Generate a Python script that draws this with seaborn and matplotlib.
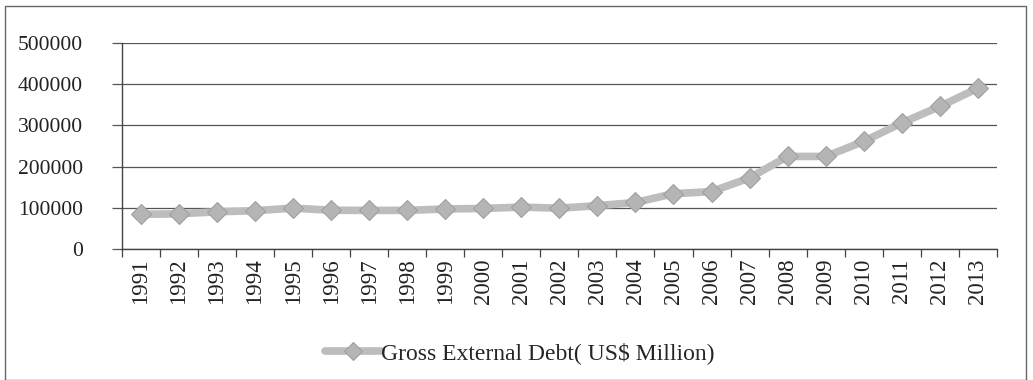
import matplotlib
matplotlib.use("Agg")
import matplotlib.pyplot as plt
import seaborn as sns
import pandas as pd
import numpy as np
from matplotlib.patches import Rectangle
from matplotlib.lines import Line2D

years = ["1991", "1992", "1993", "1994", "1995", "1996", "1997", "1998", "1999", "2000",
         "2001", "2002", "2003", "2004", "2005", "2006", "2007", "2008", "2009", "2010",
         "2011", "2012", "2013"]
debt = [83801, 85285, 90023, 92695, 99008, 93730, 93470, 93531, 96886, 98263,
        101326, 98843, 104914, 112653, 134002, 139114, 172360, 224407, 224498, 260935,
        305861, 345819, 390048]
series_name = "Gross External Debt( US$ Million)"
yticks = [0, 100000, 200000, 300000, 400000, 500000]

sns.set_theme(style="white")
plt.rcParams['font.family'] = ['Liberation Serif', 'DejaVu Serif']

df = pd.DataFrame({"Year": years, "Debt": debt})

fig = plt.figure(figsize=(10.33, 3.80), dpi=100)
ax = fig.add_axes([0.118, 0.345, 0.847, 0.542])

line_color = "#bdbdbd"
mk = dict(marker="D", markersize=10, markerfacecolor="#b5b5b5",
          markeredgecolor="#a0a0a0", markeredgewidth=0.8)
sns.lineplot(data=df, x="Year", y="Debt", ax=ax, color=line_color, linewidth=5.5,
             sort=False, **mk)

ax.set_ylim(0, 500000)
ax.set_xlim(-0.5, len(years) - 0.5)
ax.set_yticks(yticks)
ax.set_yticklabels([str(v) for v in yticks], fontsize=15.5, color="#222222")
ax.set_xticks(range(len(years)))
ax.set_xticklabels(years, rotation=90, fontsize=16.5, color="#222222")
ax.set_xticks(np.arange(-0.5, len(years), 1.0), minor=True)
ax.tick_params(axis="x", which="major", length=0, pad=7)
ax.tick_params(axis="x", which="minor", length=6, width=0.9, color="#444444", direction="out", bottom=True)
ax.tick_params(axis="y", length=7, width=0.9, color="#555555", direction="out", left=True, pad=21)
ax.set_xlabel("")
ax.set_ylabel("")

ax.grid(axis="y", color="#555555", linewidth=0.9)
ax.set_axisbelow(True)
for s in ["top", "right"]:
    ax.spines[s].set_visible(False)
ax.spines["left"].set_color("#444444")
ax.spines["left"].set_linewidth(1.0)
ax.spines["bottom"].set_color("#444444")
ax.spines["bottom"].set_linewidth(1.0)

handle = Line2D([0], [0], color=line_color, linewidth=5.5, marker="D", markersize=9,
                markerfacecolor="#b5b5b5", markeredgecolor="#a0a0a0", markeredgewidth=0.8)
fig.legend([handle], [series_name], loc="center", bbox_to_anchor=(0.503, 0.07),
           frameon=False, fontsize=17, handlelength=2.4, handletextpad=0.0)

fig.patches.append(Rectangle((0.005, 0.0), 0.988, 0.985, transform=fig.transFigure,
                             fill=False, edgecolor="#666666", linewidth=1.0))

fig.savefig("out.png", dpi=100)
